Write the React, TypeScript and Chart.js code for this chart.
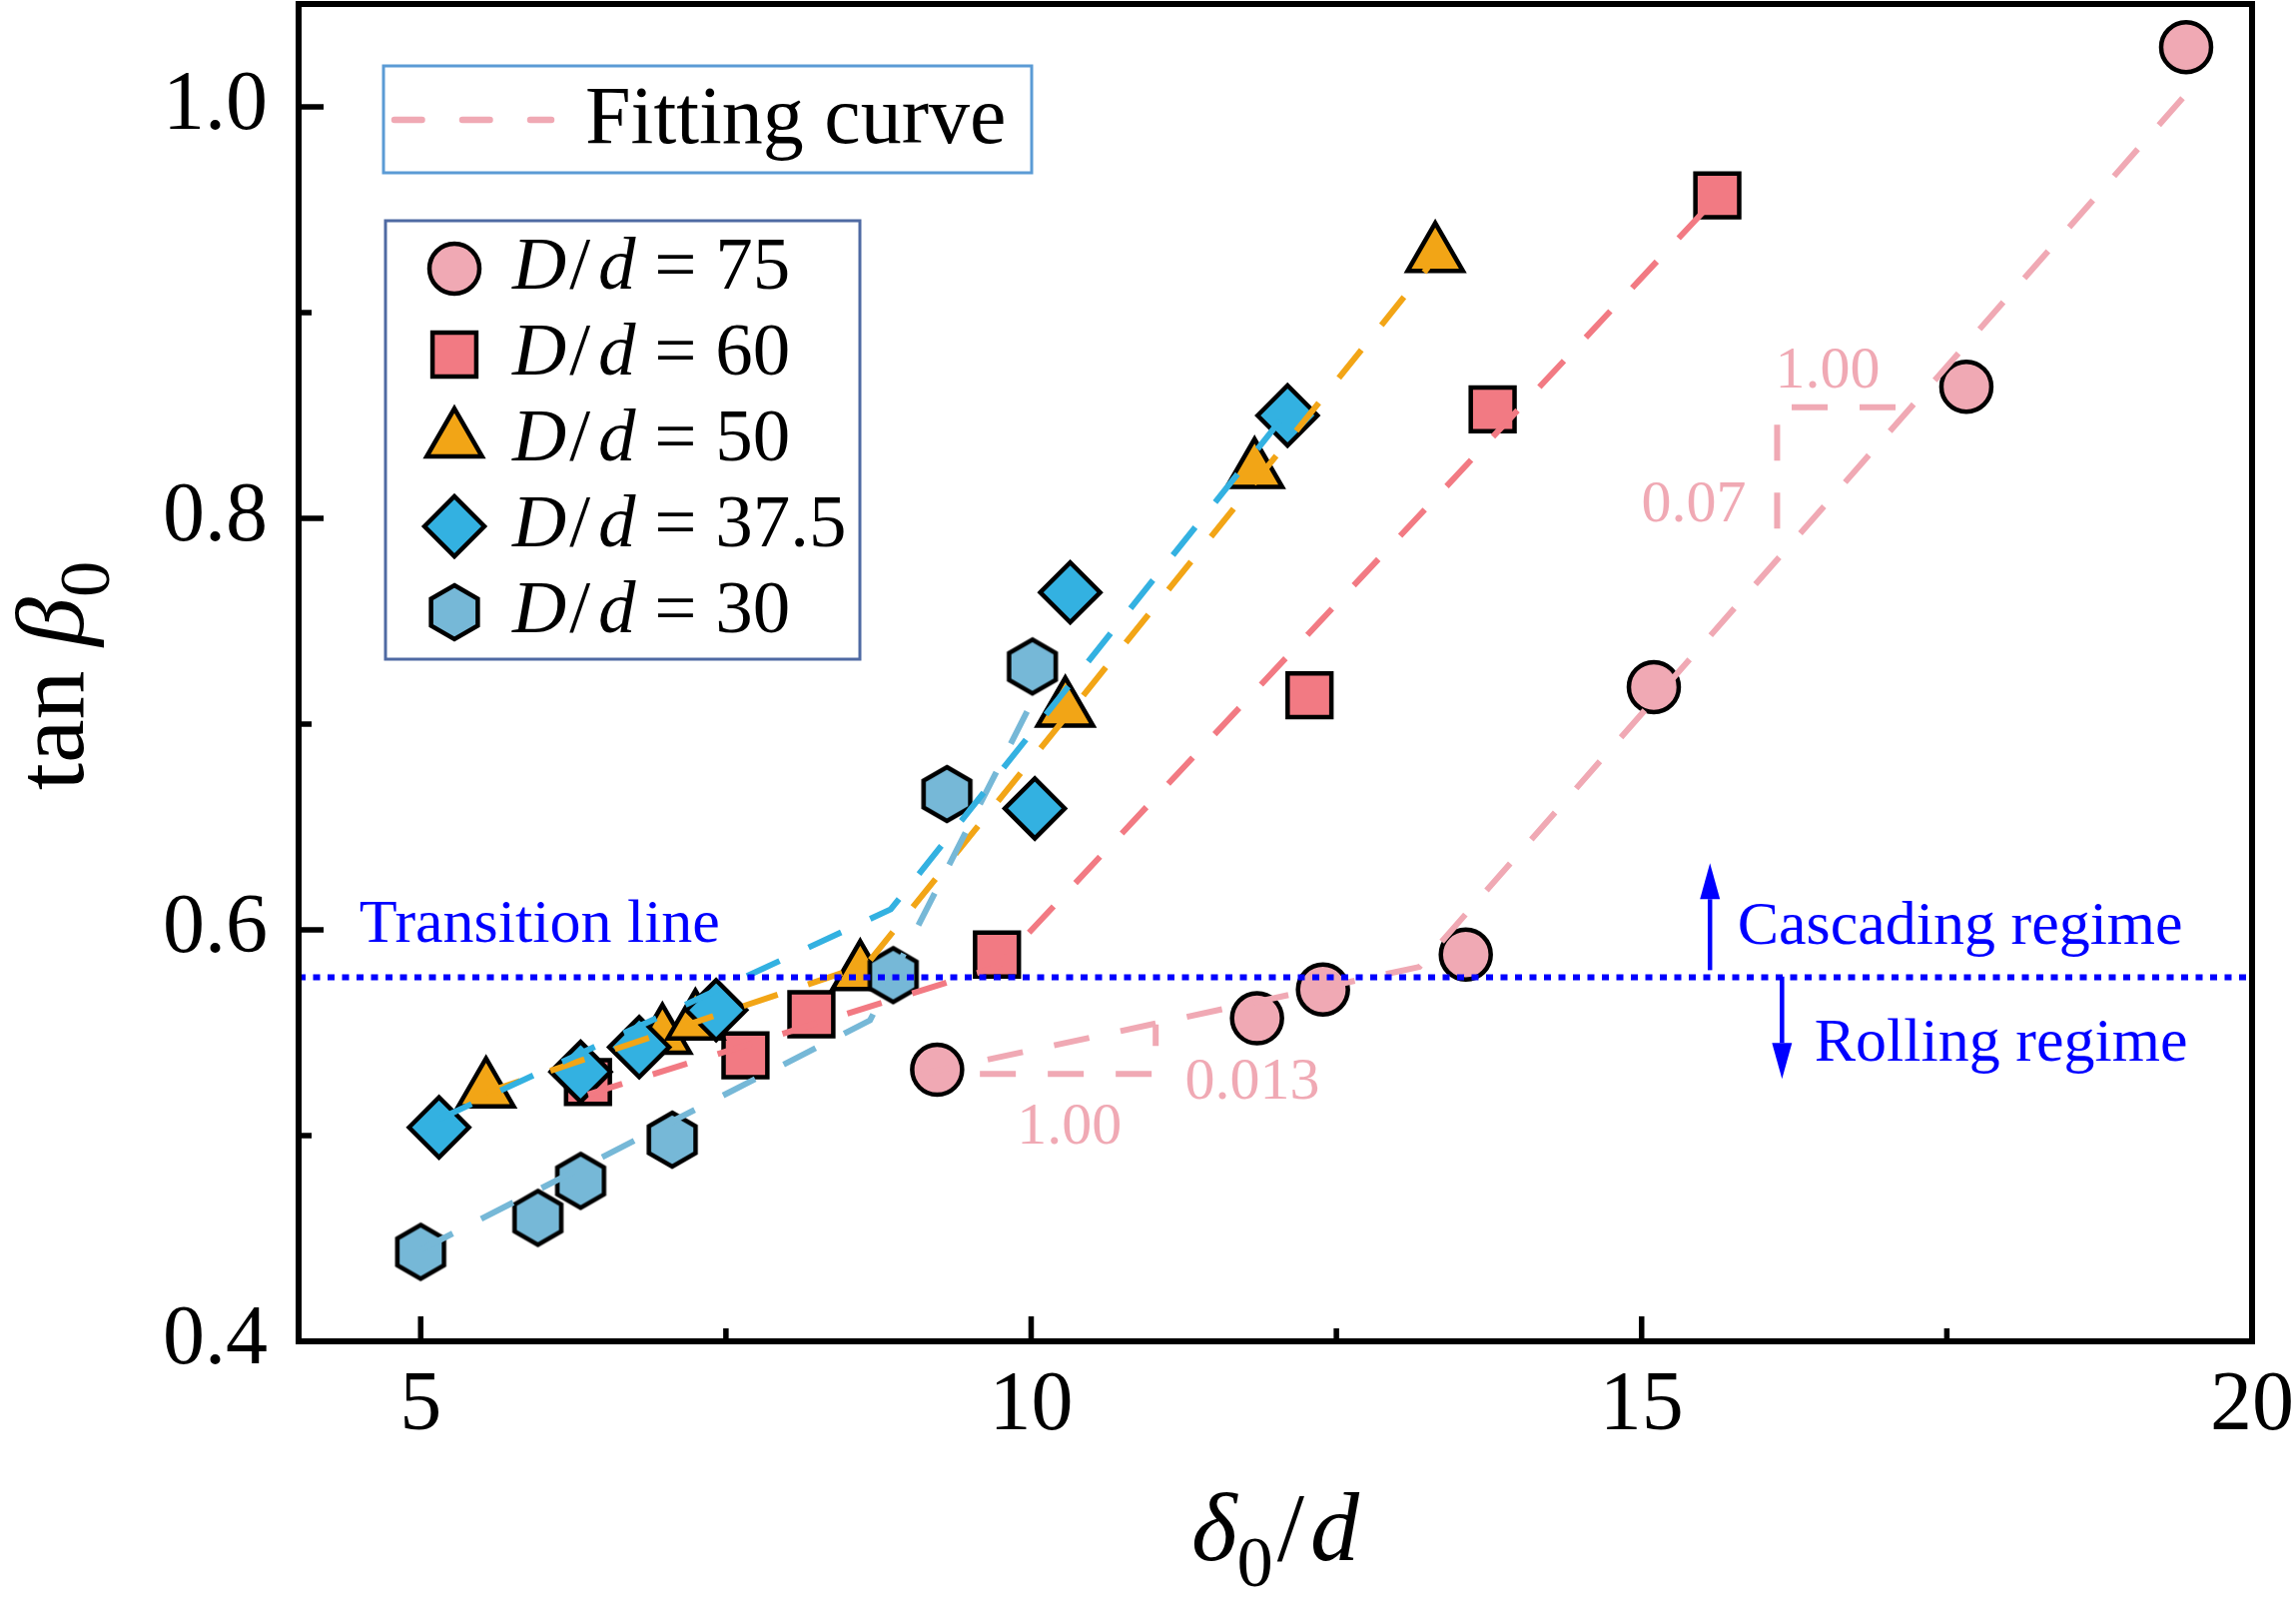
import { useEffect, useRef } from 'react';
import { Chart, registerables } from 'chart.js';

Chart.register(...registerables);

// ---- measured points, one pair of arrays per D/d series ----
const x75 = [9.23, 11.85, 12.39, 13.56, 15.1, 17.66, 19.46];
const y75 = [0.532, 0.557, 0.571, 0.588, 0.718, 0.864, 1.029];
const x60 = [6.37, 7.66, 8.2, 9.72, 12.28, 13.78, 15.62];
const y60 = [0.526, 0.539, 0.559, 0.588, 0.714, 0.853, 0.957];
const x50 = [5.535, 6.98, 7.25, 8.6, 10.28, 11.83, 13.31];
const y50 = [0.522, 0.548, 0.555, 0.579, 0.707, 0.823, 0.928];
const x375 = [5.15, 6.31, 6.79, 7.42, 10.03, 10.32, 12.1];
const y375 = [0.504, 0.531, 0.543, 0.561, 0.659, 0.764, 0.85];
const x30 = [5.0, 5.96, 6.31, 7.06, 8.87, 9.31, 10.01];
const y30 = [0.4435, 0.46, 0.478, 0.498, 0.578, 0.666, 0.728];

// ---- two-piece fitting curves ----
const fitX75 = [9.1, 13.18, 19.59];
const fitY75 = [0.53, 0.582, 1.015];
const fitX60 = [6.37, 9.72, 15.6];
const fitY60 = [0.52, 0.582, 0.955];
const fitX50 = [5.535, 8.65, 13.25];
const fitY50 = [0.521, 0.583, 0.922];
const fitX375 = [5.15, 8.85, 12.1];
const fitY375 = [0.508, 0.61, 0.852];
const fitX30 = [5.0, 8.68, 10.0];
const fitY30 = [0.4445, 0.556, 0.71];

// slope triangles on the D/d = 75 fit
const slopeX1 = [9.58, 11.02, 11.02];
const slopeY1 = [0.53, 0.53, 0.554];
const slopeX2 = [17.08, 16.11, 16.11];
const slopeY2 = [0.854, 0.854, 0.781];

const transitionX = [4, 20];
const transitionY = [0.577, 0.577];

const xMajor = [5, 10, 15, 20];
const xMinor = [7.5, 12.5, 17.5];
const yMajor = [0.4, 0.6, 0.8, 1.0];
const yMinor = [0.5, 0.7, 0.9];

const ratioLabels = ['75', '60', '50', '37.5', '30'];

const SERIF = '"Liberation Serif", "Times New Roman", serif';
const BLUE = '#0000ff';
const C75 = '#f0a9b4';
const C60 = '#f27a83';
const C50 = '#f2a516';
const C375 = '#33b1e1';
const C30 = '#76b8d7';

const zip = (xs: number[], ys: number[]) => xs.map((x, i) => ({ x, y: ys[i] }));

function hexPath(g: CanvasRenderingContext2D, cx: number, cy: number, R: number) {
  g.beginPath();
  for (let k = 0; k < 6; k++) {
    const a = -Math.PI / 2 + (k * Math.PI) / 3;
    const px = cx + R * Math.cos(a);
    const py = cy + R * Math.sin(a);
    if (k === 0) g.moveTo(px, py);
    else g.lineTo(px, py);
  }
  g.closePath();
}

function makeHexagon(R: number, fill: string, lw: number) {
  const size = 2 * Math.ceil(R + lw + 2);
  const c = document.createElement('canvas');
  c.width = size;
  c.height = size;
  const g = c.getContext('2d')!;
  hexPath(g, size / 2, size / 2, R);
  g.fillStyle = fill;
  g.fill();
  g.lineWidth = lw;
  g.strokeStyle = '#000';
  g.stroke();
  return c;
}

// same geometry as Chart.js point styles, used for the hand-drawn legend
function drawMarker(g: CanvasRenderingContext2D, style: string, x: number, y: number, r: number, fill: string) {
  g.beginPath();
  if (style === 'circle') {
    g.arc(x, y, r, 0, Math.PI * 2);
  } else if (style === 'rect') {
    const s = r * Math.SQRT1_2;
    g.rect(x - s, y - s, 2 * s, 2 * s);
  } else if (style === 'triangle') {
    g.moveTo(x, y - r);
    g.lineTo(x + r * Math.sin((2 * Math.PI) / 3), y + r / 2);
    g.lineTo(x - r * Math.sin((2 * Math.PI) / 3), y + r / 2);
    g.closePath();
  } else if (style === 'rectRot') {
    g.moveTo(x - r, y);
    g.lineTo(x, y - r);
    g.lineTo(x + r, y);
    g.lineTo(x, y + r);
    g.closePath();
  } else {
    hexPath(g, x, y, r);
  }
  g.fillStyle = fill;
  g.fill();
  g.lineWidth = 4.5;
  g.strokeStyle = '#000';
  g.stroke();
}

type Run = { text: string; italic?: boolean; sub?: boolean; gap?: number };

function drawRuns(g: CanvasRenderingContext2D, runs: Run[], x: number, y: number, size: number, align: 'left' | 'center', color: string) {
  const fontOf = (r: Run) => `${r.italic ? 'italic ' : ''}${r.sub ? size * 0.74 : size}px ${SERIF}`;
  const widths = runs.map((r) => {
    g.font = fontOf(r);
    return g.measureText(r.text).width + (r.gap || 0);
  });
  const total = widths.reduce((s, w) => s + w, 0);
  let cx = align === 'center' ? x - total / 2 : x;
  g.fillStyle = color;
  g.textBaseline = 'alphabetic';
  g.textAlign = 'left';
  runs.forEach((r, i) => {
    g.font = fontOf(r);
    g.fillText(r.text, cx + (r.gap || 0), y + (r.sub ? size * 0.27 : 0));
    cx += widths[i];
  });
}

const notes = [
  { text: 'Transition line', x: 4.497, y: 0.5944, size: 62, color: BLUE, align: 'left' as const },
  { text: 'Cascading regime', x: 15.785, y: 0.5934, size: 62, color: BLUE, align: 'left' as const },
  { text: 'Rolling regime', x: 16.415, y: 0.5362, size: 62, color: BLUE, align: 'left' as const },
  { text: '1.00', x: 10.313, y: 0.4959, size: 60, color: C75, align: 'center' as const },
  { text: '0.013', x: 11.26, y: 0.518, size: 60, color: C75, align: 'left' as const },
  { text: '1.00', x: 16.523, y: 0.8634, size: 60, color: C75, align: 'center' as const },
  { text: '0.07', x: 15.427, y: 0.7985, size: 60, color: C75, align: 'center' as const },
];

const arrows = [
  { x: 15.56, from: 0.5804, to: 0.6324 },
  { x: 16.15, from: 0.5773, to: 0.5275 },
];

const legendItems = [
  { style: 'circle', r: 25, fill: C75 },
  { style: 'rect', r: 31, fill: C60 },
  { style: 'triangle', r: 32, fill: C50 },
  { style: 'rectRot', r: 30, fill: C375 },
  { style: 'hex', r: 27, fill: C30 },
];

const overlay = {
  id: 'overlay',
  afterDraw(chart: Chart) {
    const { ctx, chartArea: a } = chart;
    const xs = chart.scales.x;
    const ys = chart.scales.y;
    const px = (v: number) => xs.getPixelForValue(v);
    const py = (v: number) => ys.getPixelForValue(v);
    ctx.save();

    // frame
    ctx.lineWidth = 6;
    ctx.strokeStyle = '#000';
    ctx.lineJoin = 'miter';
    ctx.strokeRect(a.left, a.top, a.right - a.left, a.bottom - a.top);

    // inward ticks
    ctx.lineWidth = 5.5;
    ctx.beginPath();
    xMajor.forEach((v) => { ctx.moveTo(px(v), a.bottom); ctx.lineTo(px(v), a.bottom - 25); });
    xMinor.forEach((v) => { ctx.moveTo(px(v), a.bottom); ctx.lineTo(px(v), a.bottom - 13); });
    yMajor.forEach((v) => { ctx.moveTo(a.left, py(v)); ctx.lineTo(a.left + 25, py(v)); });
    yMinor.forEach((v) => { ctx.moveTo(a.left, py(v)); ctx.lineTo(a.left + 13, py(v)); });
    ctx.stroke();

    // text notes
    notes.forEach((n) => drawRuns(ctx, [{ text: n.text }], px(n.x), py(n.y), n.size, n.align, n.color));

    // regime arrows
    ctx.strokeStyle = BLUE;
    ctx.fillStyle = BLUE;
    arrows.forEach((ar) => {
      const x0 = px(ar.x);
      const y0 = py(ar.from);
      const y1 = py(ar.to);
      const dir = y1 < y0 ? -1 : 1;
      const head = 36;
      ctx.lineWidth = 4.5;
      ctx.beginPath();
      ctx.moveTo(x0, y0);
      ctx.lineTo(x0, y1 - dir * head);
      ctx.stroke();
      ctx.beginPath();
      ctx.moveTo(x0, y1);
      ctx.lineTo(x0 - 10, y1 - dir * head);
      ctx.lineTo(x0 + 10, y1 - dir * head);
      ctx.closePath();
      ctx.fill();
    });

    // legend 1: fitting curve
    ctx.fillStyle = '#fff';
    ctx.fillRect(384, 66, 649, 107);
    ctx.lineWidth = 3;
    ctx.strokeStyle = '#5b9bd5';
    ctx.strokeRect(384, 66, 649, 107);
    ctx.save();
    ctx.strokeStyle = C75;
    ctx.lineWidth = 6.5;
    ctx.lineCap = 'round';
    ctx.setLineDash([27.5, 40.5]);
    ctx.beginPath();
    ctx.moveTo(395, 120);
    ctx.lineTo(552, 120);
    ctx.stroke();
    ctx.restore();
    drawRuns(ctx, [{ text: 'Fitting curve' }], 586, 143, 82, 'left', '#000');

    // legend 2: markers
    ctx.fillStyle = '#fff';
    ctx.fillRect(386, 221, 475, 439);
    ctx.lineWidth = 3;
    ctx.strokeStyle = '#4f6aa3';
    ctx.strokeRect(386, 221, 475, 439);
    legendItems.forEach((it, i) => {
      const cy = 269 + i * 86;
      drawMarker(ctx, it.style, 455, cy, it.r, it.fill);
      drawRuns(
        ctx,
        [
          { text: 'D', italic: true },
          { text: '/', gap: 3 },
          { text: 'd', italic: true, gap: 8 },
          { text: ` = ${ratioLabels[i]}` },
        ],
        513, cy + 20, 75, 'left', '#000',
      );
    });

    // axis titles
    drawRuns(
      ctx,
      [{ text: 'δ', italic: true }, { text: '0', sub: true }, { text: '/', gap: 4 }, { text: 'd', italic: true, gap: 6 }],
      (a.left + a.right) / 2, 1562, 98, 'center', '#000',
    );
    ctx.save();
    ctx.translate(83, (a.top + a.bottom) / 2 + 3);
    ctx.rotate(-Math.PI / 2);
    drawRuns(ctx, [{ text: 'tan ' }, { text: 'β', italic: true }, { text: '0', sub: true }], 0, 0, 98, 'center', '#000');
    ctx.restore();

    ctx.restore();
  },
};

const lineSet = (xs: number[], ys: number[], color: string) => ({
  data: zip(xs, ys),
  showLine: true,
  borderColor: color,
  borderWidth: 6,
  borderDash: [36, 32],
  borderCapStyle: 'butt' as const,
  pointRadius: 0,
  fill: false,
  tension: 0,
  order: 0,
});

const markerSet = (xs: number[], ys: number[], color: string, style: any, r: number) => ({
  data: zip(xs, ys),
  showLine: false,
  pointStyle: style,
  pointRadius: r,
  pointBackgroundColor: color,
  pointBorderColor: '#000',
  pointBorderWidth: 4.5,
  order: 1,
});

const noPadding = (s: any) => {
  s.paddingTop = 0;
  s.paddingBottom = 0;
  s.paddingLeft = 0;
  s.paddingRight = 0;
};

export default function App() {
  const canvasRef = useRef<HTMLCanvasElement>(null);

  useEffect(() => {
    if (!canvasRef.current) return;
    const hex = makeHexagon(27, C30, 4.5);

    const chart = new Chart(canvasRef.current, {
      type: 'scatter',
      data: {
        datasets: [
          {
            ...lineSet(transitionX, transitionY, BLUE),
            borderWidth: 6,
            borderDash: [7, 7.5],
          },
          lineSet(fitX375, fitY375, C375),
          lineSet(fitX30, fitY30, C30),
          lineSet(fitX50, fitY50, C50),
          lineSet(fitX60, fitY60, C60),
          lineSet(fitX75, fitY75, C75),
          lineSet(slopeX1, slopeY1, C75),
          lineSet(slopeX2, slopeY2, C75),
          markerSet(x375, y375, C375, 'rectRot', 30),
          markerSet(x30, y30, C30, hex, 27),
          markerSet(x50, y50, C50, 'triangle', 32),
          markerSet(x60, y60, C60, 'rect', 31),
          markerSet(x75, y75, C75, 'circle', 25),
        ] as any,
      },
      options: {
        animation: false,
        responsive: true,
        maintainAspectRatio: false,
        devicePixelRatio: 1,
        events: [],
        layout: { autoPadding: false, padding: { left: 0, top: 4, right: 44, bottom: 0 } },
        plugins: {
          legend: { display: false },
          tooltip: { enabled: false },
          title: { display: false },
        },
        scales: {
          x: {
            type: 'linear',
            min: 4,
            max: 20,
            afterBuildTicks: (s: any) => { s.ticks = xMajor.map((value) => ({ value })); },
            afterFit: (s: any) => { s.height = 273; noPadding(s); },
            ticks: {
              autoSkip: false,
              maxRotation: 0,
              padding: 16,
              color: '#000',
              font: { family: SERIF, size: 84 },
              callback: (v: any) => String(v),
            },
            grid: { display: false, drawTicks: false },
            border: { display: false },
          },
          y: {
            type: 'linear',
            min: 0.4,
            max: 1.05,
            afterBuildTicks: (s: any) => { s.ticks = yMajor.map((value) => ({ value })); },
            afterFit: (s: any) => { s.width = 299; noPadding(s); },
            ticks: {
              autoSkip: false,
              padding: 31,
              color: '#000',
              font: { family: SERIF, size: 84 },
              callback: (v: any) => Number(v).toFixed(1),
            },
            grid: { display: false, drawTicks: false },
            border: { display: false },
          },
        },
      },
      plugins: [overlay],
    });

    return () => chart.destroy();
  }, []);

  return (
    <div style={{ position: 'fixed', left: 0, top: 0, width: 2299, height: 1616, background: '#fff' }}>
      <canvas ref={canvasRef} />
    </div>
  );
}
